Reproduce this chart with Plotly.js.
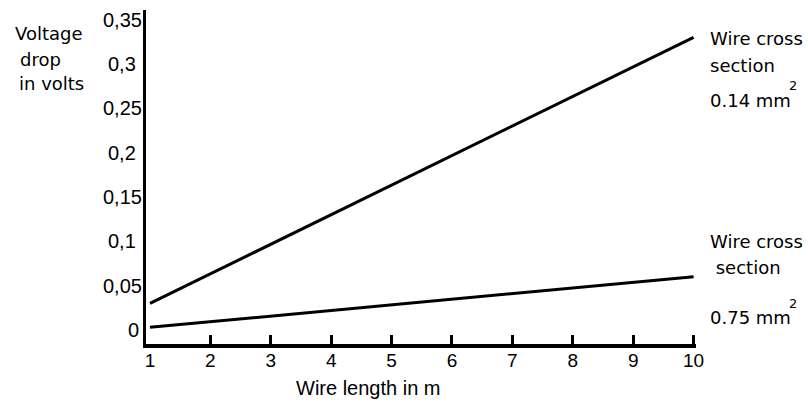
<!DOCTYPE html>
<html>
<head>
<meta charset="utf-8">
<script src="https://cdn.plot.ly/plotly-3.0.1.min.js"></script>
<style>html,body{margin:0;padding:0;background:#fff;}#chart{width:808px;height:407px;}</style>
</head>
<body>
<div id="chart"></div>
<script>
// Data
const wireLength = [1, 10];                 // m
const drop014 = [0.03, 0.33];               // V, 0.14 mm² wire
const drop075 = [0.003, 0.06];              // V, 0.75 mm² wire
const xTickVals = [1, 2, 3, 4, 5, 6, 7, 8, 9, 10];
const xTickText = ['1', '2', '3', '4', '5', '6', '7', '8', '9', '10'];
const yTickVals = [0, 0.05, 0.1, 0.15, 0.2, 0.25, 0.3, 0.35];
const yTickText = ['0', '0,05', '0,1', '0,15', '0,2', '0,25', '0,3', '0,35'];
const yTitleLines = ['Voltage', 'drop', 'in volts'];
const xTitle = 'Wire length in m';
const label014 = ['Wire cross', 'section', '0.14 mm'];
const label075 = ['Wire cross', '\u00a0section', '0.75 mm'];
const unitExponent = '2';

const W = 808, H = 407;
const L = 146, R = 696, T = 10, B = 344;
const pw = R - L, ph = B - T;
const px = x => (x - L) / pw;
const py = y => (B - y) / ph;

const sans = 'Liberation Sans, Arial, sans-serif';
const dejavu = 'DejaVu Sans, Verdana, sans-serif';
const xRange = [0.934, 10.04];

const traces = [
  {x: wireLength, y: drop014, mode: 'lines', line: {color: '#000', width: 3}, hoverinfo: 'skip'},
  {x: wireLength, y: drop075, mode: 'lines', line: {color: '#000', width: 3}, hoverinfo: 'skip'},
  {x: wireLength, y: drop075, xaxis: 'x2', mode: 'lines', line: {color: 'rgba(0,0,0,0)', width: 0}, hoverinfo: 'skip'}
];

const annotations = [];
yTickVals.forEach((v, i) => {
  annotations.push({xref: 'paper', yref: 'y', x: px(v === 0 ? 133 : 122), y: v, xanchor: 'center', yanchor: 'middle',
    text: yTickText[i], showarrow: false, font: {family: sans, size: 20, color: '#000'}});
});
const yTitlePos = [[13, 33], [18, 60], [17, 83]];
yTitleLines.forEach((t, i) => {
  annotations.push({xref: 'paper', yref: 'paper', x: px(yTitlePos[i][0]), y: py(yTitlePos[i][1]),
    xanchor: 'left', yanchor: 'middle', text: t, showarrow: false,
    font: {family: dejavu, size: 18, color: '#000'}});
});
annotations.push({xref: 'paper', yref: 'paper', x: px(368), y: py(388), xanchor: 'center', yanchor: 'middle',
  text: xTitle, showarrow: false, font: {family: sans, size: 20, color: '#000'}});

function addLabel(lines, pos, supPos) {
  lines.forEach((t, i) => {
    annotations.push({xref: 'paper', yref: 'paper', x: px(pos[i][0]), y: py(pos[i][1]),
      xanchor: 'left', yanchor: 'middle', text: t, showarrow: false,
      font: {family: dejavu, size: 18, color: '#000'}});
  });
  annotations.push({xref: 'paper', yref: 'paper', x: px(supPos[0]), y: py(supPos[1]),
    xanchor: 'center', yanchor: 'middle', text: unitExponent, showarrow: false,
    font: {family: dejavu, size: 13, color: '#000'}});
}
addLabel(label014, [[708, 39], [708, 65], [708, 100]], [793, 85]);
addLabel(label075, [[708, 242], [708, 267], [708, 317]], [793, 303]);

const layout = {
  width: W, height: H,
  margin: {l: L, r: W - R, t: T, b: H - B, pad: 0},
  paper_bgcolor: '#fff', plot_bgcolor: '#fff',
  showlegend: false,
  xaxis: {
    range: xRange, showgrid: false, zeroline: false,
    showline: true, linecolor: '#000', linewidth: 4,
    ticks: 'inside', ticklen: 9, tickwidth: 3, tickcolor: '#000',
    tickvals: xTickVals.slice(1), showticklabels: false
  },
  xaxis2: {
    range: xRange, overlaying: 'x', anchor: 'y', side: 'bottom',
    showgrid: false, zeroline: false, showline: false, ticks: '',
    tickvals: xTickVals, ticktext: xTickText, ticklabelstandoff: 3,
    tickfont: {family: sans, size: 19, color: '#000'}
  },
  yaxis: {
    range: [-0.0158, 0.3608], showgrid: false, zeroline: false,
    showline: true, linecolor: '#000', linewidth: 3,
    ticks: '', showticklabels: false
  },
  annotations: annotations
};

Plotly.newPlot('chart', traces, layout, {staticPlot: true, displayModeBar: false});
</script>
</body>
</html>
